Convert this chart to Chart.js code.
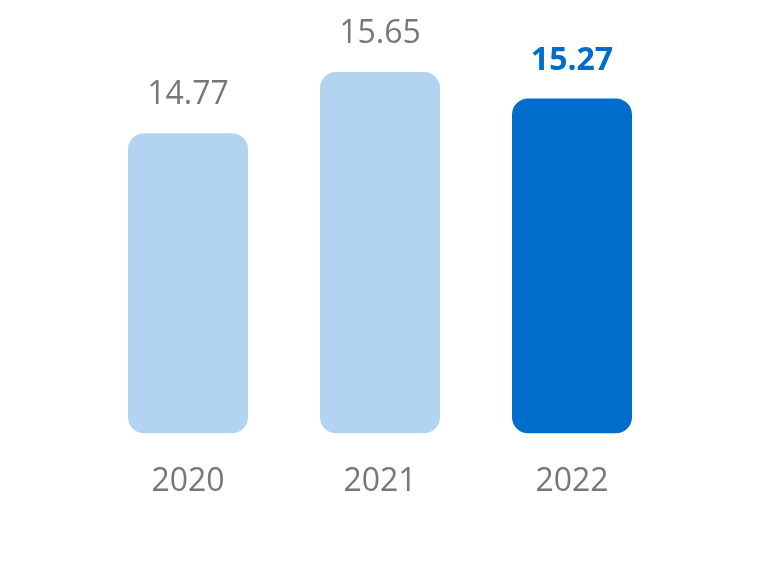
<!DOCTYPE html>
<html lang="en">
<head>
    <meta charset="UTF-8">
    <title>Bar chart</title>
    <script src="https://cdn.jsdelivr.net/npm/chart.js"></script>
    <style>
        html, body { margin: 0; padding: 0; background: #fff; }
        #wrap { width: 761px; height: 571px; }
    </style>
</head>
<body>
    <div id="wrap"><canvas id="chart"></canvas></div>
    <script>
        const years = ['2020', '2021', '2022'];
        const values = [14.77, 15.65, 15.27];
        const barColors = ['#B3D4F0', '#B3D4F0', '#006DCC'];
        const labelColors = ['#777777', '#777777', '#006DCC'];
        const labelWeights = ['normal', 'normal', 'bold'];

        // draw value labels over each bar
        const valueLabels = {
            id: 'valueLabels',
            afterDatasetsDraw(chart) {
                const ctx = chart.ctx;
                chart.getDatasetMeta(0).data.forEach((bar, i) => {
                    ctx.save();
                    ctx.font = labelWeights[i] + ' 32px "Open Sans", sans-serif';
                    ctx.fillStyle = labelColors[i];
                    ctx.textAlign = 'center';
                    ctx.textBaseline = 'bottom';
                    ctx.fillText(values[i].toFixed(2), bar.x, bar.y - 22);
                    ctx.restore();
                });
            }
        };

        new Chart(document.getElementById('chart'), {
            type: 'bar',
            data: {
                labels: years,
                datasets: [{
                    data: values,
                    base: 10.45,
                    backgroundColor: barColors,
                    borderRadius: 16,
                    borderSkipped: false,
                    barPercentage: 0.625,
                    categoryPercentage: 1
                }]
            },
            options: {
                responsive: true,
                maintainAspectRatio: false,
                animation: false,
                layout: { padding: { left: 92, right: 93, top: 20, bottom: 52 } },
                plugins: { legend: { display: false }, tooltip: { enabled: false } },
                scales: {
                    x: {
                        grid: { display: false },
                        border: { display: false },
                        ticks: {
                            color: '#777777',
                            padding: 18,
                            font: { size: 32, family: '"Open Sans", sans-serif' }
                        }
                    },
                    y: { display: false, min: 10.4, max: 16.4 }
                }
            },
            plugins: [valueLabels]
        });
    </script>
</body>
</html>
